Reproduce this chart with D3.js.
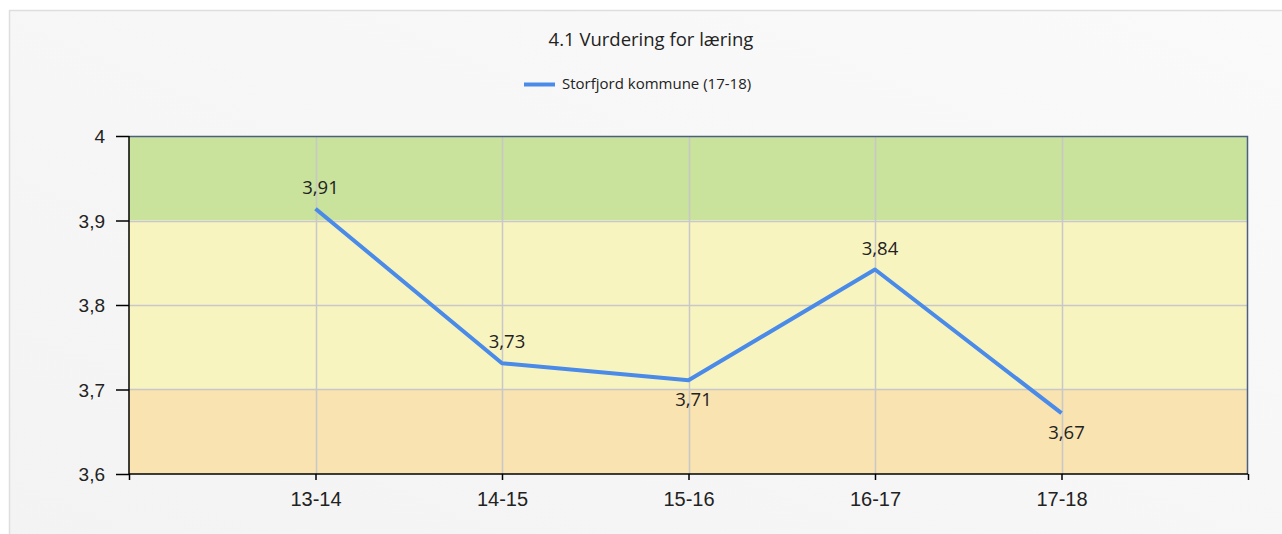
<!DOCTYPE html>
<html><head><meta charset="utf-8">
<script src="https://cdn.jsdelivr.net/npm/d3@7"></script>
<style>
html,body{margin:0;padding:0;background:#fff;}
svg{display:block;font-family:"Open Sans","Noto Sans",sans-serif;}
</style></head>
<body>
<svg id="c" width="1282" height="534"></svg>
<script>
const categories = ["13-14","14-15","15-16","16-17","17-18"];
const values = [3.914, 3.731, 3.711, 3.842, 3.672];
const labels = ["3,91","3,73","3,71","3,84","3,67"];
const labelBelow = [false,false,true,false,true];
const yTicks = [3.6,3.7,3.8,3.9,4];
const yTickLabels = ["3,6","3,7","3,8","3,9","4"];
const bands = [{from:3.9,to:4.0,color:"#c9e29c"},{from:3.7,to:3.9,color:"#f8f4c0"},{from:3.6,to:3.7,color:"#f8e3b1"}];
const title = "4.1 Vurdering for læring";
const seriesName = "Storfjord kommune (17-18)";

const svg = d3.select("#c");
const defs = svg.append("defs");
const g = defs.append("linearGradient").attr("id","bg").attr("x1","0").attr("y1","1").attr("x2","1").attr("y2","0");
g.append("stop").attr("offset","0").attr("stop-color","#f3f3f3");
g.append("stop").attr("offset","1").attr("stop-color","#fafafa");
svg.append("rect").attr("x",9.5).attr("y",10.5).attr("width",1290).attr("height",540)
  .attr("fill","url(#bg)").attr("stroke","#dedede").attr("stroke-width",1.5);

const L=129,R=1248,T=136,B=474;
const x = d3.scaleLinear().domain([0,categories.length+1]).range([L,R]);
const y = d3.scaleLinear().domain([3.6,4]).range([B,T]);

bands.forEach(b=>{
  svg.append("rect").attr("x",L).attr("y",y(b.to)).attr("width",R-L).attr("height",y(b.from)-y(b.to)).attr("fill",b.color);
});
// grid
svg.append("g").selectAll("line").data(yTicks.slice(1,-1)).join("line")
  .attr("x1",L).attr("x2",R).attr("y1",d=>Math.round(y(d))+0.5).attr("y2",d=>Math.round(y(d))+0.5)
  .attr("stroke","#c8c8c8").attr("stroke-width",1.5);
svg.append("g").selectAll("line").data(categories).join("line")
  .attr("x1",(d,i)=>Math.round(x(i+1))+0.5).attr("x2",(d,i)=>Math.round(x(i+1))+0.5).attr("y1",T).attr("y2",B)
  .attr("stroke","#c8c8c8").attr("stroke-width",1.5);
// top/right border
svg.append("path").attr("d",`M${L},${T+0.5}H${R-0.5}V${B}`).attr("fill","none").attr("stroke","#4d5f80").attr("stroke-width",1.5);

// axes
const yAxis = d3.axisLeft(y).tickValues(yTicks).tickFormat((d,i)=>yTickLabels[i]).tickSize(13).tickPadding(11);
const ya = svg.append("g").attr("transform",`translate(${L},0)`).call(yAxis);
ya.select(".domain").attr("stroke","#000").attr("stroke-width",1.5).attr("d",`M0,${T}V${B}`);
ya.selectAll(".tick line").attr("stroke","#000").attr("stroke-width",1.5);
ya.selectAll("text").attr("font-size","19px").attr("fill","#222").attr("dy","0.36em");

const xticks = d3.range(0,categories.length+2);
const xAxis = d3.axisBottom(x).tickValues(xticks).tickFormat(d=>(d>=1&&d<=categories.length)?categories[d-1]:"").tickSize(6).tickPadding(12);
const xa = svg.append("g").attr("transform",`translate(0,${B})`).call(xAxis);
xa.select(".domain").attr("stroke","#000").attr("stroke-width",1.5).attr("d",`M${L},0H${R}`);
xa.selectAll(".tick line").attr("stroke","#000").attr("stroke-width",1.5);
xa.selectAll("text").attr("font-size","20px").attr("fill","#222");

// line
const line = d3.line().x((d,i)=>x(i+1)).y(d=>y(d));
svg.append("path").datum(values).attr("d",line).attr("fill","none")
  .attr("stroke","#4a8ae8").attr("stroke-width",4).attr("stroke-linejoin","round");

// labels
svg.append("g").selectAll("text").data(values).join("text")
  .attr("x",(d,i)=>x(i+1)+5).attr("y",(d,i)=>labelBelow[i]?y(d)+26:y(d)-15)
  .attr("text-anchor","middle").attr("font-size","18.5px").attr("fill","#222")
  .text((d,i)=>labels[i]);

// title
svg.append("text").attr("x",651).attr("y",46).attr("text-anchor","middle").attr("font-size","18.5px").attr("fill","#222").text(title);
// legend
svg.append("line").attr("x1",524).attr("x2",555).attr("y1",84.5).attr("y2",84.5).attr("stroke","#4a8ae8").attr("stroke-width",4);
svg.append("text").attr("x",562).attr("y",89).attr("font-size","15px").attr("fill","#222").text(seriesName);
</script>
</body></html>
